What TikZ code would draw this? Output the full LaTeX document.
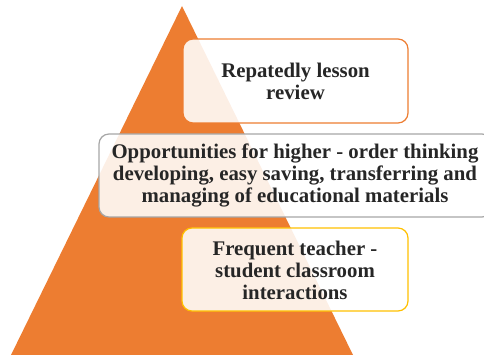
\documentclass[tikz,border=0pt]{standalone}
\usepackage{fontspec}
\setmainfont{Liberation Serif}
\begin{document}
\begin{tikzpicture}[x=1pt,y=-1pt,
  box/.style={draw, line width=1.2pt, rounded corners=10pt, fill=white, fill opacity=0.88, text opacity=1},
  lbl/.style={font=\rmfamily\bfseries\fontsize{20.8}{22}\selectfont, text=black!85, align=center}]
\useasboundingbox (0,0) rectangle (484,355);
\definecolor{tri}{HTML}{ED7D31}
\definecolor{yel}{HTML}{FFC000}
\fill[tri] (182,6) coordinate (apex) -- (11,355) coordinate (bl) -- (353,355) coordinate (br) -- cycle;
\path[box, draw=tri] (183,39) rectangle (408,123);
\path[box, draw=black!35] (99,134) rectangle (492,217);
\path[box, draw=yel] (182,228) rectangle (408,311);
\node[lbl] (n1) at (295.5,81) {Repatedly lesson\\review};
\node[lbl] (n2) at (295,175.5) {Opportunities for higher - order thinking\\developing, easy saving, transferring and\\managing of educational materials};
\node[lbl] (n3) at (295,270) {Frequent teacher -\\student classroom\\interactions};
\end{tikzpicture}
\end{document}
